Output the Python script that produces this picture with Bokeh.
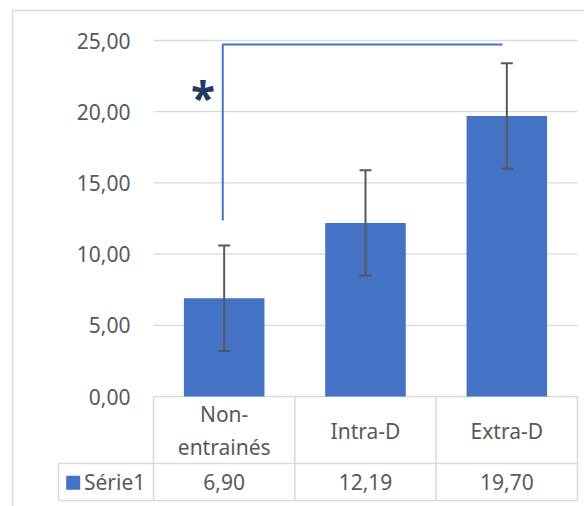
from bokeh.plotting import figure
from bokeh.models import Range1d, Whisker, ColumnDataSource, TeeHead
from bokeh.core.properties import value
from bokeh.embed import file_html
from bokeh.resources import INLINE

# ---- data ----
categories = ["Non-\nentrainés", "Intra-D", "Extra-D"]
values = [6.90, 12.19, 19.70]
errors = [3.7, 3.7, 3.7]
y_ticks = [0, 5, 10, 15, 20, 25]
series_name = "Série1"
sig_label = "*"
sig_pair = [0, 2]          # bracket from first to third category
sig_bottom = 12.36
sig_top = 24.72

# ---- layout helpers (screen pixel -> data) ----
W, H = 584, 506
OX, OY = 0, 0
X0, PXC = 153.0, 141.333    # screen x of category 0 left edge, px per category
Y0, PXU = 396.0, 14.24      # screen y of value 0, px per unit


def dx(px):
    return (px - X0) / PXC


def dy(py):
    return (Y0 - py) / PXU


FONT = "Noto Sans"
FS = "21px"
TXT = "#595959"
GRID = "#D9D9D9"
BLUE = "#4472C4"

p = figure(width=W, height=H,
           x_range=Range1d(dx(OX), dx(OX + W)),
           y_range=Range1d(dy(OY + H), dy(OY)),
           x_axis_location=None, y_axis_location=None,
           output_backend="svg", toolbar_location=None, min_border=0)
p.grid.visible = False
p.outline_line_color = None
p.background_fill_color = "white"
p.border_fill_color = "white"

n = len(categories)
xc = [i + 0.5 for i in range(n)]

# chart border (left & top)
p.segment(x0=[dx(12), dx(12)], y0=[dy(10), dy(10)],
          x1=[dx(12), dx(700)], y1=[dy(700), dy(10)],
          line_color=GRID, line_width=1.5)

# gridlines
p.segment(x0=[0] * len(y_ticks), y0=y_ticks, x1=[n] * len(y_ticks), y1=y_ticks,
          line_color=GRID, line_width=1.3)

# tick labels
p.text(x=[dx(130)] * len(y_ticks), y=y_ticks,
       text=[f"{t:.2f}".replace(".", ",") for t in y_ticks],
       text_align="right", text_baseline="middle",
       text_font=value(FONT), text_font_size=FS, text_color=TXT)

# bars
p.vbar(x=xc, top=values, width=0.57, fill_color=BLUE, line_color=None)

# error bars
src = ColumnDataSource(dict(x=xc,
                            upper=[v + e for v, e in zip(values, errors)],
                            lower=[v - e for v, e in zip(values, errors)]))
w = Whisker(base="x", upper="upper", lower="lower", source=src,
            line_color=TXT, line_width=2, level="annotation",
            upper_head=TeeHead(size=12, line_color=TXT, line_width=2),
            lower_head=TeeHead(size=12, line_color=TXT, line_width=2))
p.add_layout(w)

# significance bracket
xa = sig_pair[0] + 0.49
xb = sig_pair[1] + 0.47
p.line(x=[xa, xa, xb], y=[sig_bottom, sig_top, sig_top],
       line_color=BLUE, line_width=2)
p.text(x=[dx(202.5)], y=[dy(96)], text=[sig_label],
       text_align="center", text_baseline="alphabetic",
       text_font=value(FONT), text_font_style="bold",
       text_font_size="44px", text_color="#1F3864")

# data table
row1 = dy(463)
row2 = dy(500)
p.segment(x0=[dx(58), dx(58)] + list(range(n + 1)) + [dx(58)],
          y0=[row1, row2] + [0] * (n + 1) + [row1],
          x1=[n, n] + list(range(n + 1)) + [dx(58)],
          y1=[row1, row2] + [row2] * (n + 1) + [row2],
          line_color=GRID, line_width=1.5)

p.text(x=xc, y=[dy(430)] * n, text=categories,
       text_align="center", text_baseline="middle", text_line_height=1.15,
       text_font=value(FONT), text_font_size=FS, text_color=TXT)
p.text(x=xc, y=[dy(481.5)] * n,
       text=[f"{v:.2f}".replace(".", ",") for v in values],
       text_align="center", text_baseline="middle",
       text_font=value(FONT), text_font_size=FS, text_color=TXT)

# legend key in table
p.scatter(x=[dx(72.7)], y=[dy(482.3)], marker="square", size=14,
          fill_color=BLUE, line_color=None)
p.text(x=[dx(83.5)], y=[dy(481.5)], text=[series_name],
       text_align="left", text_baseline="middle",
       text_font=value(FONT), text_font_size=FS, text_color=TXT)

open("out.html", "w").write(file_html(p, INLINE))
